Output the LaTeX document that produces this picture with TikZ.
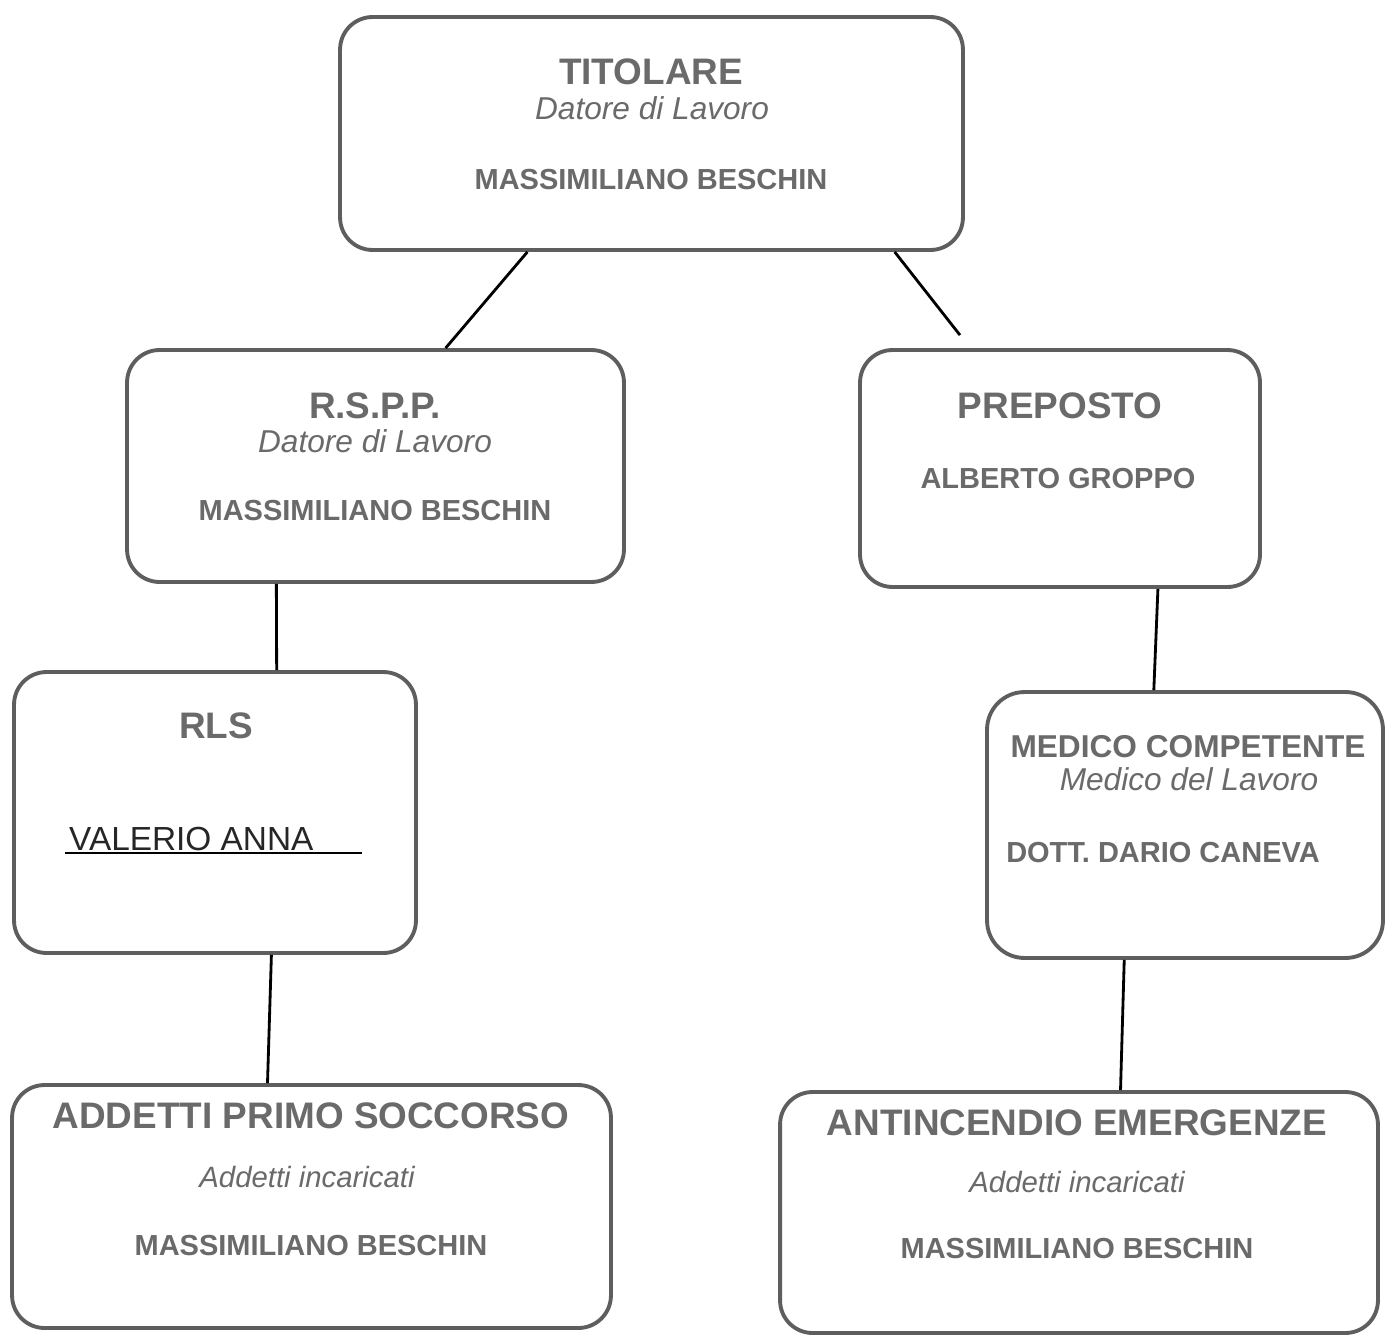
\documentclass[tikz,border=0pt]{standalone}
\usepackage{fontspec}
\setmainfont{Liberation Sans}
\usetikzlibrary{positioning}
\usetikzlibrary{calc}

\definecolor{boxgray}{HTML}{5E5E5E}
\definecolor{txtgray}{HTML}{6A6A6A}

\tikzset{
    orgbox/.style={draw=boxgray, line width=2.2pt, rounded corners=0.65cm, fill=white, inner sep=0pt},
    title/.style={anchor=base, text=txtgray, font=\fontsize{21}{25}\selectfont\bfseries},
    role/.style={anchor=base, text=txtgray, font=\fontsize{18}{22}\selectfont\itshape},
    person/.style={anchor=base, text=txtgray, font=\fontsize{16.5}{20}\selectfont\bfseries},
    link/.style={draw=black, line width=1.6pt}
}

\begin{document}
\begin{tikzpicture}[x=0.02cm, y=-0.02cm]
                \useasboundingbox (0,0) rectangle (1386,1338);
                % boxes
                \node[orgbox, minimum width=12.46cm, minimum height=4.66cm] (titolare) at (651.5,133.5) {};
                \node[orgbox, minimum width=9.94cm, minimum height=4.64cm] (rspp) at (375.5,466) {};
                \node[orgbox, minimum width=8cm, minimum height=4.74cm] (preposto) at (1060,468.5) {};
                \node[orgbox, minimum width=8.04cm, minimum height=5.62cm] (rls) at (215,812.5) {};
                \node[orgbox, minimum width=7.92cm, minimum height=5.32cm, rounded corners=0.75cm] (medico) at (1185,825) {};
                \node[orgbox, minimum width=11.98cm, minimum height=4.86cm] (addetti) at (311.5,1206.5) {};
                \node[orgbox, minimum width=11.96cm, minimum height=4.82cm] (antincendio) at (1079,1212.5) {};
                % texts
                \node[title] (titolare_t) at (651,85) {TITOLARE};
                \node[role] (titolare_r) at (652,120) {Datore di Lavoro};
                \node[person] (titolare_p) at (651,190) {MASSIMILIANO BESCHIN};
                \node[title] (rspp_t) at (375,418) {R.S.P.P.};
                \node[role] (rspp_r) at (375,452) {Datore di Lavoro};
                \node[person] (rspp_p) at (375,520) {MASSIMILIANO BESCHIN};
                \node[title] (preposto_t) at (1060,418) {PREPOSTO};
                \node[person] (preposto_p) at (1058,488) {ALBERTO GROPPO};
                \node[title] (rls_t) at (216,738) {RLS};
                \node[anchor=base west, font=\fontsize{19}{23}\selectfont, text=black!85] (rls_p) at (63,850) {VALERIO ANNA};
                \node[title, font=\fontsize{18}{22}\selectfont\bfseries] (medico_t) at (1188,757) {MEDICO COMPETENTE};
                \node[role] (medico_r) at (1189,790) {Medico del Lavoro};
                \node[person] (medico_p) at (1163,862) {DOTT. DARIO CANEVA};
                \node[title] (addetti_t) at (311,1128) {ADDETTI PRIMO SOCCORSO};
                \node[role, font=\fontsize{16.7}{20}\selectfont\itshape] (addetti_r) at (307,1187) {Addetti incaricati};
                \node[person] (addetti_p) at (311,1255) {MASSIMILIANO BESCHIN};
                \node[title] (antincendio_t) at (1077,1135) {ANTINCENDIO EMERGENZE};
                \node[role, font=\fontsize{16.7}{20}\selectfont\itshape] (antincendio_r) at (1077,1192) {Addetti incaricati};
                \node[person] (antincendio_p) at (1077,1258) {MASSIMILIANO BESCHIN};
                % underline of the handwritten name
                \draw[line width=1pt] (rls_p.base west) ++(2,3) -- ++(297,0);
                % connectors
                \path[link]
                    ($(titolare.south west)!.302!(titolare.south east)$) -- ($(rspp.north west)!.64!(rspp.north east)$)
                    ($(rspp.south west)!.302!(rspp.south east)$) -- ($(rls.north west)!.652!(rls.north east)$)
                    ($(rls.south west)!.639!(rls.south east)$) -- ($(addetti.north west)!.427!(addetti.north east)$)
                    ($(preposto.south west)!.7425!(preposto.south east)$) -- ($(medico.north west)!.422!(medico.north east)$)
                    ($(medico.south west)!.348!(medico.south east)$) -- ($(antincendio.north west)!.569!(antincendio.north east)$);
                \draw[link, shorten >=0.33cm] ($(titolare.south west)!.888!(titolare.south east)$) -- ($(preposto.north west)!.2775!(preposto.north east)$);
            \end{tikzpicture}
\end{document}
